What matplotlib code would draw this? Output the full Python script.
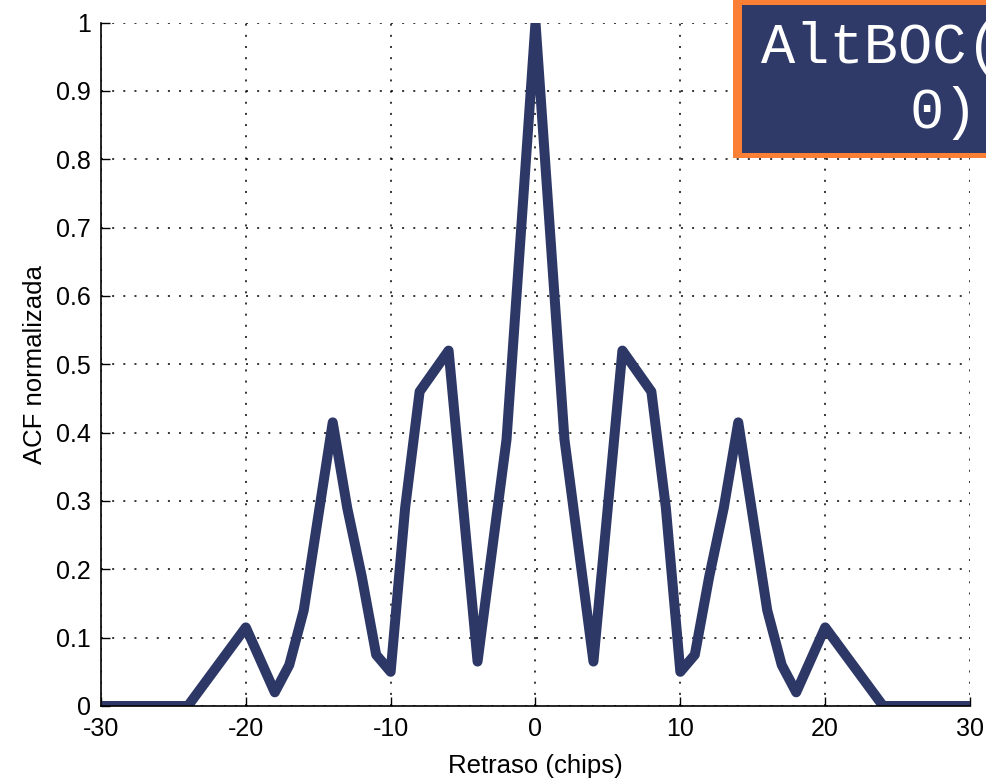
import matplotlib.pyplot as plt
from matplotlib.patches import Rectangle

plt.rcParams['font.family'] = ['Liberation Sans', 'DejaVu Sans']

# autocorrelation of the AltBOC signal, lag in chips
lag = [-30, -24, -20, -18, -17, -16, -14, -13, -12, -11, -10, -9, -8, -6, -4, -2, 0,
       2, 4, 6, 8, 9, 10, 11, 12, 13, 14, 16, 17, 18, 20, 24, 30]
acf = [0, 0, 0.115, 0.02, 0.06, 0.14, 0.415, 0.29, 0.19, 0.075, 0.05, 0.29, 0.46, 0.52, 0.065, 0.39, 1.0,
       0.39, 0.065, 0.52, 0.46, 0.29, 0.05, 0.075, 0.19, 0.29, 0.415, 0.14, 0.06, 0.02, 0.115, 0, 0]

xticks = [-30, -20, -10, 0, 10, 20, 30]
yticks = [0, 0.1, 0.2, 0.3, 0.4, 0.5, 0.6, 0.7, 0.8, 0.9, 1]
ylabels = ['0', '0.1', '0.2', '0.3', '0.4', '0.5', '0.6', '0.7', '0.8', '0.9', '1']

navy = '#2d3867'

fig = plt.figure(figsize=(9.87, 7.82), dpi=100)
ax = fig.add_axes([0.1023, 0.0972, 0.8805, 0.874])

ax.plot(lag, acf, color=navy, linewidth=7.2, solid_joinstyle='round',
        solid_capstyle='butt', zorder=3)

ax.set_xlim(-30, 30)
ax.set_ylim(0, 1)
ax.set_xticks(xticks)
ax.set_xticklabels([str(t) for t in xticks])
ax.set_yticks(yticks)
ax.set_yticklabels(ylabels)
ax.tick_params(direction='in', length=6.5, width=1, labelsize=18, pad=7, color='black')
ax.tick_params(axis='x', pad=8)
ax.grid(True, color='black', linestyle=(0, (1.3, 6)), linewidth=1.1)
for side in ['top', 'right']:
    ax.spines[side].set_visible(False)
for side in ['left', 'bottom']:
    ax.spines[side].set_linewidth(1.2)
    ax.spines[side].set_zorder(4)

ax.set_xlabel('Retraso (chips)', fontsize=18.5, labelpad=9)
ax.set_ylabel('ACF normalizada', fontsize=18.5, labelpad=7)

# title box in the top-right corner
W, H = 987, 782
fig.patches.append(Rectangle((733 / W, (H - 158) / H), 0.3, 158 / H,
                             transform=fig.transFigure, facecolor='#fb8036',
                             edgecolor='none', zorder=5))
fig.patches.append(Rectangle((742 / W, (H - 153) / H), 0.3, 148 / H,
                             transform=fig.transFigure, facecolor='#2f3a68',
                             edgecolor='none', zorder=6))
fig.text(761 / W, (H - 63) / H, 'AltBOC(', family='Liberation Mono', fontsize=41,
         color='white', va='baseline', ha='left', zorder=7)
fig.text(910 / W, (H - 128) / H, '0)', family='Liberation Mono', fontsize=41,
         color='white', va='baseline', ha='left', zorder=7)

plt.savefig('out.png', dpi=100)
